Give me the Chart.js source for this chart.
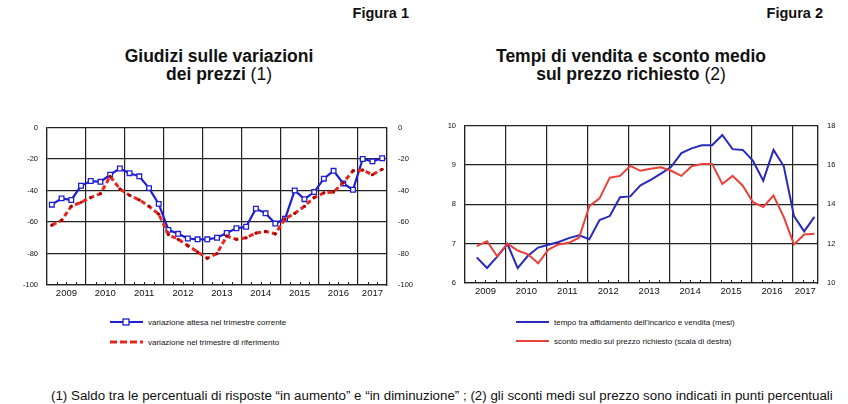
<!DOCTYPE html>
<html>
<head>
<meta charset="utf-8">
<script src="https://cdn.jsdelivr.net/npm/chart.js@4.4.1/dist/chart.umd.min.js"></script>
<style>
  body { margin: 0; width: 848px; height: 404px; background: #fff; position: relative; overflow: hidden;
         font-family: "Liberation Sans", Arial, sans-serif; color: #111; }
  .fig { position: absolute; top: 5px; font-weight: bold; font-size: 14.5px; white-space: nowrap; }
  .title { position: absolute; top: 47px; width: 300px; text-align: center; font-weight: bold;
           font-size: 17.5px; line-height: 18px; }
  .title span { font-weight: normal; }
  .box { position: absolute; top: 112px; height: 190px; }
  .leg { position: absolute; font-size: 8px; white-space: nowrap; display: flex; align-items: center; height: 10px; }
  .leg svg { margin-right: 5px; }
  #footnote { position: absolute; left: 51px; top: 389px; font-size: 12px; line-height: 14px;
              white-space: nowrap; transform-origin: left center; }
</style>
</head>
<body>

<div class="fig" style="right:439px">Figura 1</div>
<div class="fig" style="right:25px">Figura 2</div>

<div class="title" style="left:69px">Giudizi sulle variazioni<br>dei prezzi <span>(1)</span></div>
<div class="title" style="left:481px">Tempi di vendita e sconto medio<br>sul prezzo richiesto <span>(2)</span></div>

<div class="box" style="left:0;width:420px"><canvas id="left"></canvas></div>
<div class="box" style="left:424px;width:424px"><canvas id="right"></canvas></div>

<div class="leg" style="left:110px;top:317px">
  <svg width="33" height="10"><line x1="0" y1="5" x2="33" y2="5" stroke="#1e1ed2" stroke-width="2.2"/>
    <rect x="13" y="2" width="6" height="6" fill="#fff" stroke="#1e1ed2" stroke-width="1.3"/></svg>
  <span id="legL1"></span>
</div>
<div class="leg" style="left:110px;top:337px">
  <svg width="33" height="10"><line x1="0" y1="5" x2="33" y2="5" stroke="#e8261e" stroke-width="3" stroke-dasharray="7,3"/></svg>
  <span id="legL2"></span>
</div>
<div class="leg" style="left:516px;top:317px">
  <svg width="33" height="10"><line x1="0" y1="5" x2="33" y2="5" stroke="#2a2ab8" stroke-width="2"/></svg>
  <span id="legR1"></span>
</div>
<div class="leg" style="left:516px;top:336px">
  <svg width="33" height="10"><line x1="0" y1="5" x2="33" y2="5" stroke="#e8403a" stroke-width="2"/></svg>
  <span id="legR2"></span>
</div>

<div id="footnote">(1) Saldo tra le percentuali di risposte “in aumento” e “in diminuzione” ; (2) gli sconti medi sul prezzo sono indicati in punti percentuali</div>

<script>
// year labels shared by both charts (quarterly data)
const years = ["2009", "2010", "2011", "2012", "2013", "2014", "2015", "2016", "2017"];

// Figura 1: 2009 Q1 - 2017 Q3
const priceExpected = [
  -49, -45, -46, -37,
  -34, -34.5, -30, -26,
  -29, -31, -38.5, -48.5,
  -65, -67.5, -70.5, -71,
  -71, -70, -67, -64,
  -63, -51.5, -54.5, -61,
  -58, -40, -45.5, -41,
  -32.5, -27.5, -35.5, -39.5,
  -20, -21.5, -19.5
];
const priceReference = [
  -62, -59, -50, -47.5,
  -44.5, -42, -31, -39,
  -43, -46, -50, -55,
  -68, -71, -75, -79,
  -83, -80, -69, -71,
  -70, -67, -66, -67.5,
  -58, -54.5, -50, -44.5,
  -41.5, -41, -35, -27.5,
  -27, -30, -26.5
];

// Figura 2: 2009 Q1 - 2017 Q2
const saleTime = [
  6.65, 6.38, 6.67, 6.99,
  6.38, 6.69, 6.9, 6.97,
  7.04, 7.14, 7.21, 7.11,
  7.6, 7.7, 8.18, 8.2,
  8.48, 8.62, 8.78, 8.95,
  9.3, 9.42, 9.5, 9.5,
  9.76, 9.4, 9.38, 9.1,
  8.6, 9.38, 8.97, 7.7,
  7.31, 7.68
];
const discount = [
  11.87, 12.12, 11.35, 12.0,
  11.65, 11.46, 11.0, 11.7,
  11.96, 12.04, 12.3, 13.9,
  14.3, 15.35, 15.44, 15.95,
  15.7, 15.8, 15.88, 15.7,
  15.44, 15.93, 16.05, 16.05,
  15.03, 15.44, 14.94, 14.1,
  13.86, 14.44, 13.36, 11.96,
  12.46, 12.5
];

const legendLeft = ["variazione attesa nel trimestre corrente", "variazione nel trimestre di riferimento"];
const legendRight = ["tempo tra affidamento dell'incarico e vendita (mesi)", "sconto medio sul prezzo richiesto (scala di destra)"];

document.getElementById("legL1").textContent = legendLeft[0];
document.getElementById("legL2").textContent = legendLeft[1];
document.getElementById("legR1").textContent = legendRight[0];
document.getElementById("legR2").textContent = legendRight[1];

const INK = "#222";
const font = { family: "'Liberation Sans', Arial, sans-serif" };

// small quarter marks along the bottom axis
const quarterMarks = {
  id: "quarterMarks",
  beforeDatasetsDraw(chart) {
    const x = chart.scales.x, area = chart.chartArea, c = chart.ctx;
    c.save();
    c.strokeStyle = INK;
    c.lineWidth = 1;
    for (let q = 1; q < x.max; q++) {
      if (q % 4 === 0) continue;
      const px = Math.round(x.getPixelForValue(q)) + 0.5;
      c.beginPath();
      c.moveTo(px, area.bottom);
      c.lineTo(px, area.bottom - 3);
      c.stroke();
    }
    c.restore();
  }
};

function toPoints(values, shift) {
  return values.map((v, i) => ({ x: i + shift, y: v }));
}

function makeOptions(cfg) {
  const gridTicks = [];
  for (let v = 0; v < cfg.xMax; v += 4) gridTicks.push(v);
  gridTicks.push(cfg.xMax);
  const labelTicks = [];
  for (let v = 2; v < 32; v += 4) labelTicks.push(v);
  labelTicks.push((32 + cfg.xMax) / 2);
  const isGrid = v => v % 4 === 0 || v === cfg.xMax;

  return {
    responsive: true,
    maintainAspectRatio: false,
    animation: false,
    layout: { padding: { top: cfg.top, left: 0, right: 0, bottom: 0 } },
    plugins: { legend: { display: false }, tooltip: { enabled: false } },
    scales: {
      x: {
        type: "linear",
        min: 0,
        max: cfg.xMax,
        afterBuildTicks: s => {
          s.ticks = gridTicks.concat(labelTicks).sort((a, b) => a - b).map(v => ({ value: v }));
        },
        afterFit: s => { s.height = cfg.xHeight; },
        ticks: {
          autoSkip: false,
          maxRotation: 0,
          padding: 3,
          color: "#111",
          font: Object.assign({ size: 9.5 }, font),
          callback: v => isGrid(v) ? "" : years[Math.floor(v / 4)]
        },
        grid: {
          drawTicks: false,
          lineWidth: 1.2,
          color: ctx => (ctx.tick && isGrid(ctx.tick.value)) ? INK : "rgba(0,0,0,0)"
        },
        border: { display: true, color: INK, width: 1.2 }
      },
      y: {
        position: "left",
        min: cfg.yMin, max: cfg.yMax,
        afterFit: s => { s.width = cfg.yWidth; },
        ticks: { stepSize: cfg.yStep, padding: 9, color: "#111", font: Object.assign({ size: 7.5 }, font) },
        grid: { drawTicks: false, color: INK, lineWidth: 1.2 },
        border: { display: true, color: INK, width: 1.2 }
      },
      y1: {
        position: "right",
        min: cfg.y1Min, max: cfg.y1Max,
        afterFit: s => { s.width = cfg.y1Width; },
        ticks: { stepSize: cfg.y1Step, padding: cfg.y1Pad, color: "#111", font: Object.assign({ size: 7.5 }, font) },
        grid: { drawOnChartArea: false, drawTicks: false },
        border: { display: true, color: INK, width: 1.2 }
      }
    }
  };
}

new Chart(document.getElementById("left"), {
  type: "line",
  data: {
    datasets: [
      {
        label: legendLeft[1],
        data: toPoints(priceReference, 0.5),
        yAxisID: "y",
        borderColor: "#e8261e",
        borderWidth: 3,
        borderDash: [5, 3],
        pointStyle: "circle",
        pointRadius: 1.6,
        pointBackgroundColor: "#a80000",
        pointBorderWidth: 0,
        tension: 0
      },
      {
        label: legendLeft[0],
        data: toPoints(priceExpected, 0.5),
        yAxisID: "y",
        borderColor: "#1e1ed2",
        borderWidth: 2.2,
        pointStyle: "rect",
        pointRadius: 3.3,
        pointBackgroundColor: "#fff",
        pointBorderColor: "#1e1ed2",
        pointBorderWidth: 1.3,
        tension: 0
      }
    ]
  },
  options: makeOptions({
    xMax: 35, top: 8, xHeight: 17, yWidth: 47, y1Width: 33, y1Pad: 11,
    yMin: -100, yMax: 0, yStep: 20, y1Min: -100, y1Max: 0, y1Step: 20
  }),
  plugins: [quarterMarks]
});

new Chart(document.getElementById("right"), {
  type: "line",
  data: {
    datasets: [
      {
        label: legendRight[1],
        data: toPoints(discount, 1.15),
        yAxisID: "y1",
        borderColor: "#e8403a",
        borderWidth: 2,
        pointRadius: 0,
        tension: 0
      },
      {
        label: legendRight[0],
        data: toPoints(saleTime, 1.15),
        yAxisID: "y",
        borderColor: "#2a2ab8",
        borderWidth: 2,
        pointRadius: 0,
        tension: 0
      }
    ]
  },
  options: makeOptions({
    xMax: 34.5, top: 10, xHeight: 19, yWidth: 41, y1Width: 30, y1Pad: 9,
    yMin: 6, yMax: 10, yStep: 1, y1Min: 10, y1Max: 18, y1Step: 2
  }),
  plugins: [quarterMarks]
});

// stretch the footnote to the width it has in the original
const fn = document.getElementById("footnote");
const w = fn.getBoundingClientRect().width;
if (w > 0) fn.style.transform = "scaleX(" + (782 / w).toFixed(3) + ")";
</script>
</body>
</html>
